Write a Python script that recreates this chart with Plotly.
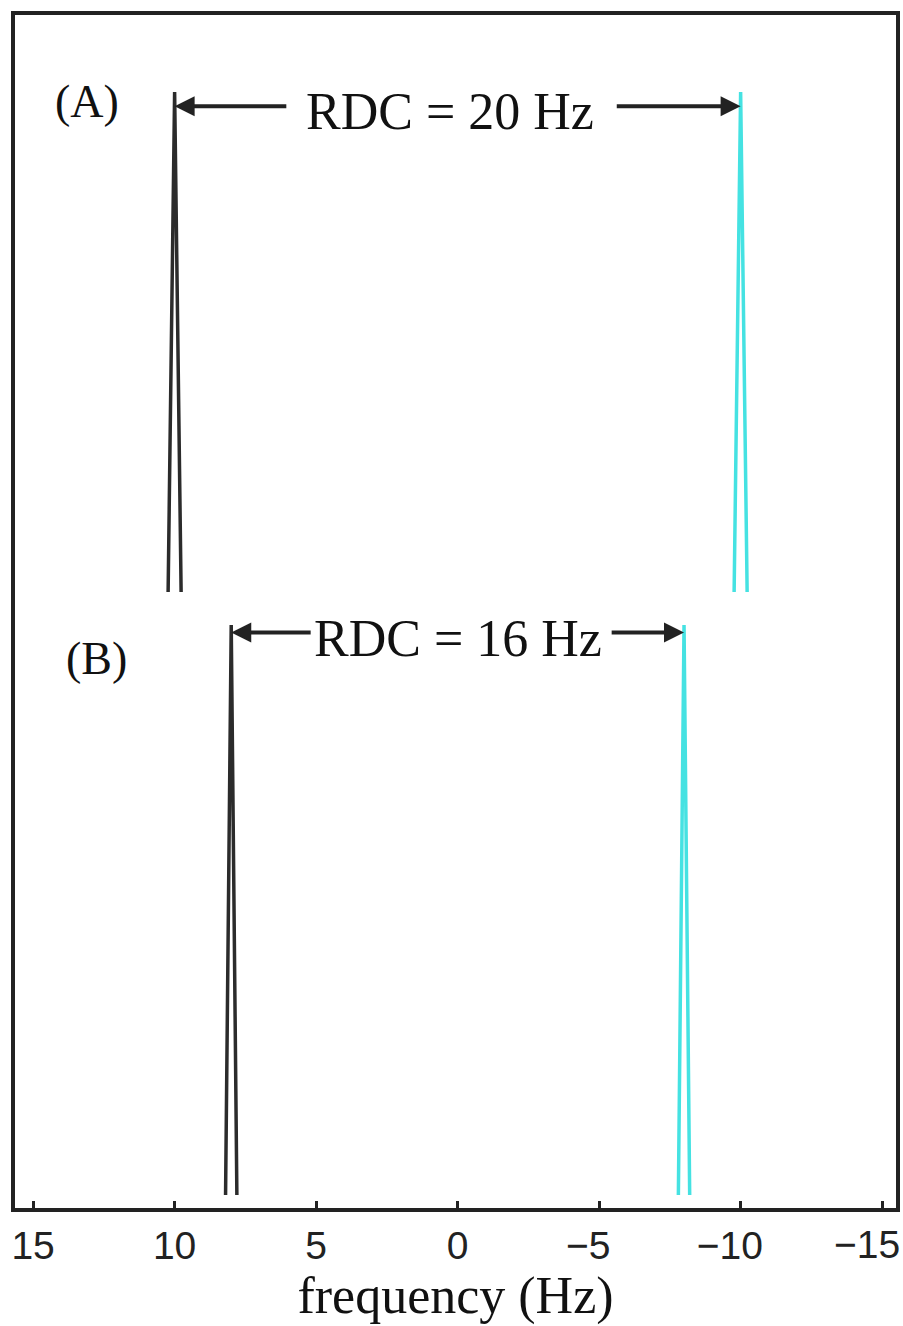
import plotly.graph_objects as go

# Peak data (frequency in Hz)
panels = ["(A)", "(B)"]
rdc_labels = ["RDC = 20 Hz", "RDC = 16 Hz"]
black_centers = [10.0, 8.0]
cyan_centers = [-10.0, -8.0]
half_widths = [0.23, 0.2]
baselines = [1.058, 0.0]
tops = [1.935, 1.0]
arrow_y = [1.91, 0.987]
text_y = [1.901, 0.977]
label_y = [1.918, 0.942]
label_x = [13.1, 12.75]
arrow_tail_left = [6.0, 5.14]
arrow_tail_right = [-5.57, -5.39]
text_x = [0.27, -0.02]

tick_vals = [15, 10, 5, 0, -5, -10, -15]
tick_text = ["15", "10", "5", "0", "\u22125\u2007", "\u221210\u2007", ""]
edge_tick_value = -15
edge_tick_text = "\u221215"

BLACK = "#2b2b2b"
CYAN = "#45E2E2"

fig = go.Figure()
for i in range(len(panels)):
    for c, col in ((black_centers[i], BLACK), (cyan_centers[i], CYAN)):
        w = half_widths[i]
        fig.add_trace(go.Scatter(
            x=[c - w, c, c + w],
            y=[baselines[i], tops[i], baselines[i]],
            mode="lines", line=dict(color=col, width=3.5),
            showlegend=False, hoverinfo="skip"))

annotations = []
for i in range(len(panels)):
    annotations.append(dict(x=label_x[i], y=label_y[i], xref="x", yref="y",
                            text=panels[i], showarrow=False,
                            font=dict(family="Liberation Serif", size=46, color="#111")))
    annotations.append(dict(x=text_x[i], y=text_y[i], xref="x", yref="y",
                            text=rdc_labels[i], showarrow=False,
                            font=dict(family="Liberation Serif", size=52, color="#111")))
    annotations.append(dict(x=black_centers[i], y=arrow_y[i], xref="x", yref="y",
                            ax=arrow_tail_left[i], ay=arrow_y[i], axref="x", ayref="y",
                            text="", showarrow=True, arrowhead=2, arrowsize=1.0,
                            arrowwidth=4, arrowcolor="#222", standoff=0))
    annotations.append(dict(x=cyan_centers[i], y=arrow_y[i], xref="x", yref="y",
                            ax=arrow_tail_right[i], ay=arrow_y[i], axref="x", ayref="y",
                            text="", showarrow=True, arrowhead=2, arrowsize=1.0,
                            arrowwidth=4, arrowcolor="#222", standoff=0))

# label of the last tick, kept inside the page like in the reference
annotations.append(dict(x=edge_tick_value, y=-0.031, xref="x", yref="paper",
                        xanchor="center", yanchor="middle", xshift=-15,
                        text=edge_tick_text, showarrow=False,
                        font=dict(family="Liberation Sans", size=39, color="#222")))

fig.update_layout(
    width=903, height=1326,
    margin=dict(l=15, r=7, t=15, b=118, autoexpand=False),
    paper_bgcolor="white", plot_bgcolor="white",
    annotations=annotations,
    xaxis=dict(range=[15.64, -15.49], tickvals=tick_vals, ticktext=tick_text,
               ticks="inside", ticklen=7, tickwidth=3, tickcolor="#222",
               ticklabeloverflow="allow",
               showgrid=False, zeroline=False,
               showline=True, linewidth=4, linecolor="#222", mirror=True,
               tickfont=dict(family="Liberation Sans", size=39, color="#222"),
               title=dict(text="frequency (Hz)", standoff=0,
                          font=dict(family="Liberation Serif", size=52, color="#111"))),
    yaxis=dict(range=[-0.0228, 2.0702], showticklabels=False, ticks="",
               showgrid=False, zeroline=False,
               showline=True, linewidth=4, linecolor="#222", mirror=True),
)

fig.write_html("out.html", config={"displayModeBar": False},
               post_script="document.body.style.margin='0';document.body.style.overflow='hidden';")
